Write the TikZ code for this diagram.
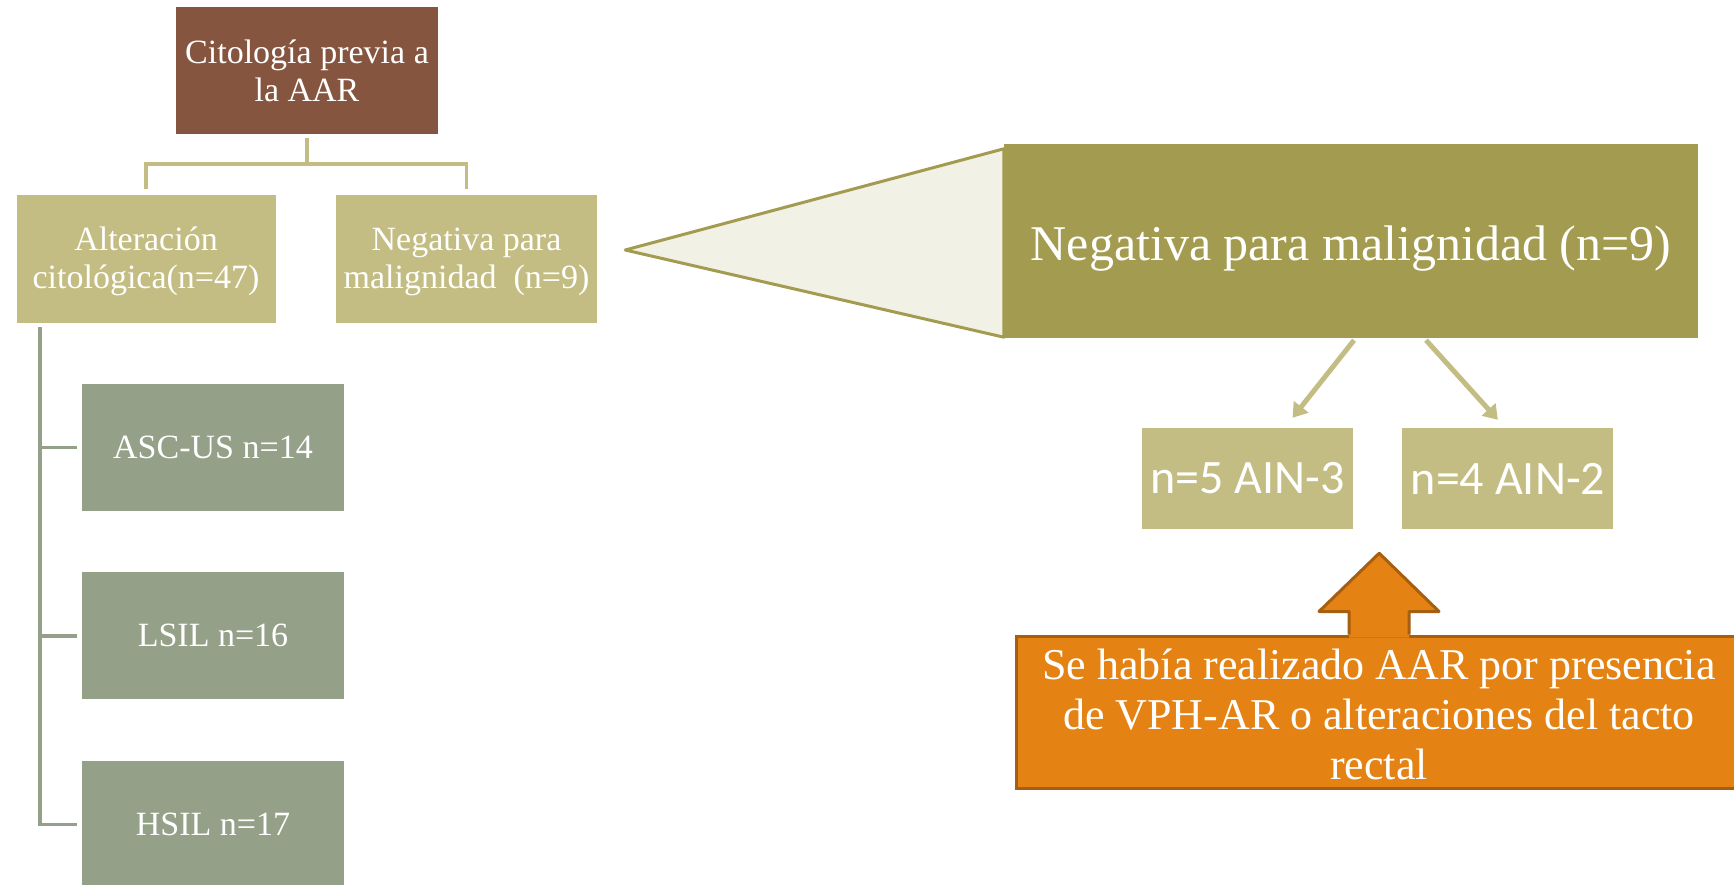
\documentclass[tikz,border=0pt]{standalone}
\usepackage{fontspec}
\setmainfont{Liberation Serif}
\newfontfamily\calfont{Carlito}
\usetikzlibrary{positioning,arrows.meta,backgrounds,calc}
\definecolor{rootbrown}{HTML}{86553F}
\definecolor{khaki}{HTML}{C4BD83}
\definecolor{olive}{HTML}{A39B4F}
\definecolor{sage}{HTML}{94A088}
\definecolor{wedgefill}{HTML}{F1F1E6}
\definecolor{noteorange}{HTML}{E48313}
\definecolor{noteedge}{HTML}{A65E10}
\newcommand{\lowr}[2]{\raisebox{-#1}[\height][\depth]{#2}}
\tikzset{
  cell/.style={rectangle, inner sep=0pt, text=white, align=center, font=\fontsize{34}{38}\selectfont},
  rootbox/.style={cell, fill=rootbrown, minimum width=262pt, minimum height=127pt},
  levelbox/.style={cell, fill=khaki, minimum width=259pt, minimum height=128pt},
  gradebox/.style={cell, fill=sage, minimum width=262pt, minimum height=127pt},
  bigbox/.style={cell, fill=olive, minimum width=694pt, minimum height=194pt, font=\fontsize{50}{56}\selectfont},
  ainbox/.style={cell, fill=khaki, minimum width=211pt, minimum height=101pt, font=\calfont\fontsize{48}{52}\selectfont},
  notebox/.style={cell, fill=noteorange, draw=noteedge, line width=3pt, minimum width=726pt, minimum height=152pt, font=\fontsize{44}{50}\selectfont},
  forkline/.style={draw=khaki, line width=3.5pt},
  stemline/.style={draw=sage, line width=3.5pt},
  wedgeshape/.style={fill=wedgefill, draw=olive, line width=3pt, line join=round},
  ainarrow/.style={draw=khaki, line width=5pt, -{Triangle[length=14pt,width=18pt]}},
  noteline/.style={draw=noteedge, line width=3pt, line join=round},
}
\begin{document}
\begin{tikzpicture}[x=1pt,y=-1pt]
  \useasboundingbox (0,0) rectangle (1734,885);
  \clip (0,0) rectangle (1734,885);
  \node[rootbox] (top) at (307,70.5) {Citología previa a\\la AAR};
  \node[levelbox] (alt) at (146,259) {\lowr{2.5pt}{Alteración}\\\lowr{2.5pt}{citológica(n=47)}};
  \node[levelbox, minimum width=261pt] (neg) at (466.5,259) {\lowr{2.5pt}{Negativa para}\\\lowr{2.5pt}{malignidad\ \ (n=9)}};
  \node[gradebox] (asc) at (213,447.5) {ASC-US n=14};
  \node[gradebox, below=61pt of asc] (lsil) {LSIL n=16};
  \node[gradebox, below=61pt of lsil] (hsil) {HSIL n=17};

  \draw[forkline] ([yshift=-4pt]top.south) -- ([yshift=-30pt]top.south) -| ([yshift=6pt]alt.north);
  \draw[forkline] ([yshift=-30pt]top.south) -| ([yshift=6pt]neg.north);

  \coordinate (stem) at ([xshift=23.5pt,yshift=-4pt]alt.south west);
  \draw[stemline] (stem) |- ([xshift=-5pt]hsil.west);
  \foreach \g in {asc,lsil}
    \draw[stemline] (stem |- \g.west) -- ([xshift=-5pt]\g.west);

  \node[bigbox] (big) at (1351,241) {\lowr{7.5pt}{Negativa para malignidad (n=9)}};
  \coordinate (tip) at ([xshift=28pt,yshift=9pt]neg.east);
  \begin{scope}[on background layer]
    \draw[wedgeshape] (tip) -- ([yshift=-5pt]big.north west) -- ([yshift=1pt]big.south west) -- cycle;
  \end{scope}

  \node[ainbox] (n5) at (1247.5,478.5) {n=5 AIN-3};
  \node[ainbox, right=49pt of n5] (n4) {n=4 AIN-2};
  \draw[ainarrow] ([xshift=3pt,yshift=-2pt]big.south) -- ([xshift=45pt,yshift=10pt]n5.north);
  \draw[ainarrow] ([xshift=75pt,yshift=-2pt]big.south) -- ([xshift=-10pt,yshift=8pt]n4.north);

  \node[notebox] (note) at (1379,712) {\lowr{2.5pt}{Se había realizado AAR por presencia}\\\lowr{2.5pt}{de VPH-AR o alteraciones del tacto}\\\lowr{2.5pt}{rectal}};
  \coordinate (up) at ($(n5.south east)!0.5!(n4.south west)+(1.5,24)$);
  \fill[noteorange] ([xshift=-30pt,yshift=-3pt]note.north) -- ([xshift=-30pt,yshift=23pt]note.north)
    -- ([xshift=-60pt,yshift=23pt]note.north) -- (up) -- ([xshift=60pt,yshift=23pt]note.north)
    -- ([xshift=30pt,yshift=23pt]note.north) -- ([xshift=30pt,yshift=-3pt]note.north) -- cycle;
  \draw[noteline] ([xshift=-30pt]note.north) -- ++(0,-23) -- ++(-30,0) -- (up)
    -- ([xshift=60pt,yshift=23pt]note.north) -- ++(-30,0) -- ++(0,23);
\end{tikzpicture}
\end{document}
